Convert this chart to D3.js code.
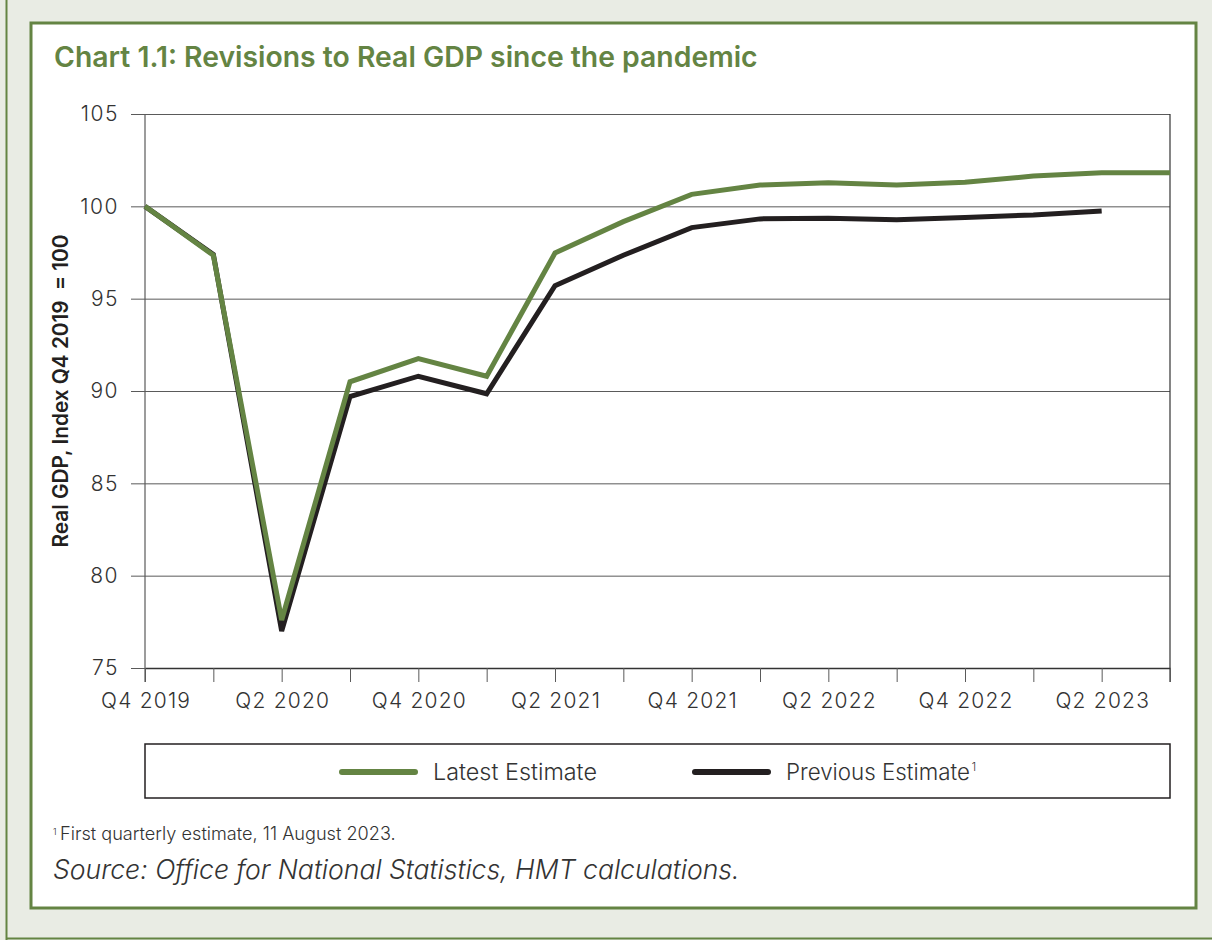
<!DOCTYPE html>
<html><head><meta charset="utf-8">
<script src="https://cdn.jsdelivr.net/npm/d3@7"></script>
<style>
body{margin:0;background:#e9ece4;}
svg{display:block;}
text{font-family:Inter,"Open Sans",sans-serif;}
</style>
</head><body>
<svg id="c" width="1212" height="940"></svg>
<script>
const quarters = ["Q4 2019","Q1 2020","Q2 2020","Q3 2020","Q4 2020","Q1 2021","Q2 2021","Q3 2021",
  "Q4 2021","Q1 2022","Q2 2022","Q3 2022","Q4 2022","Q1 2023","Q2 2023","Q3 2023"];
const labelledQuarters = ["Q4 2019","Q2 2020","Q4 2020","Q2 2021","Q4 2021","Q2 2022","Q4 2022","Q2 2023"];
const latestEstimate = [100,97.35,77.6,90.5,91.75,90.8,97.47,99.17,100.65,101.15,101.28,101.15,101.3,101.64,101.82,101.82];
const previousEstimate = [100,97.4,77.0,89.7,90.8,89.85,95.7,97.35,98.85,99.32,99.36,99.27,99.4,99.53,99.75];
const yTicks = [75,80,85,90,95,100,105];
const seriesNames = ["Latest Estimate","Previous Estimate"];

const GREEN = "#648443", BLACK = "#231f20", GRID = "#5a5a5a";
const svg = d3.select("#c");

// frames
svg.append("rect").attr("x",0).attr("y",0).attr("width",1212).attr("height",940).attr("fill","#e9ece4");
svg.append("line").attr("x1",6.5).attr("x2",6.5).attr("y1",0).attr("y2",940).attr("stroke",GREEN).attr("stroke-width",2);
svg.append("line").attr("x1",6).attr("x2",1212).attr("y1",938.5).attr("y2",938.5).attr("stroke",GREEN).attr("stroke-width",2);
svg.append("rect").attr("x",31).attr("y",23).attr("width",1165).attr("height",885)
  .attr("fill","#fff").attr("stroke",GREEN).attr("stroke-width",3);

function fit(sel, target){
  const w = sel.node().getComputedTextLength();
  const fs = parseFloat(sel.attr("font-size"));
  sel.attr("font-size", fs*target/w);
}

const title = svg.append("text").attr("x",54).attr("y",67).attr("font-size",24).attr("font-weight",600)
  .attr("fill",GREEN).text("Chart 1.1: Revisions to Real GDP since the pandemic");
fit(title, 704);

const x = d3.scalePoint().domain(quarters).range([145,1170]);
const y = d3.scaleLinear().domain([75,105]).range([668,114]);

// gridlines
svg.append("g").attr("transform","translate(145,0)")
  .call(d3.axisLeft(y).tickValues(yTicks.filter(v=>v>75)).tickSize(-1025).tickFormat(""))
  .call(g=>g.select(".domain").remove())
  .call(g=>g.selectAll("line").attr("stroke",GRID).attr("stroke-width",1));

// y axis
const ya = svg.append("g").attr("transform","translate(145,0)")
  .call(d3.axisLeft(y).tickValues(yTicks).tickSize(14).tickSizeOuter(0).tickPadding(12))
  .call(g=>g.select(".domain").remove());
ya.selectAll("line").attr("stroke",GRID);
ya.selectAll("text").attr("font-size",21).attr("font-weight",300).attr("fill","#333")
  .attr("font-family","Inter").attr("letter-spacing",1.5);
svg.append("line").attr("x1",145).attr("x2",145).attr("y1",y(105)).attr("y2",682).attr("stroke",GRID).attr("stroke-width",1.2);
// right border
svg.append("line").attr("x1",1170).attr("x2",1170).attr("y1",y(105)).attr("y2",682).attr("stroke","#333").attr("stroke-width",1.2);

// x axis
const xa = svg.append("g").attr("transform","translate(0,668)")
  .call(d3.axisBottom(x).tickSize(14).tickSizeOuter(0).tickPadding(11)
    .tickFormat(d=>labelledQuarters.includes(d)?d:""));
xa.select(".domain").attr("stroke","#333").attr("stroke-width",1.5);
xa.selectAll("line").attr("stroke",GRID);
xa.selectAll("text").attr("font-size",21).attr("font-weight",300).attr("fill","#333")
  .attr("font-family","Inter").attr("letter-spacing",1.2).attr("dx",0.6);

// y title
const yt = svg.append("text").attr("transform","translate(68,391) rotate(-90)").attr("text-anchor","middle")
  .attr("font-size",17).attr("font-weight",600).attr("fill",BLACK).style("white-space","pre")
  .text("Real GDP, Index Q4 2019  = 100");
fit(yt, 313);

// lines
const line = d3.line().x((d,i)=>x(quarters[i])).y(d=>y(d));
svg.append("path").datum(previousEstimate).attr("d",line).attr("fill","none")
  .attr("stroke",BLACK).attr("stroke-width",5).attr("stroke-linejoin","miter");
svg.append("path").datum(latestEstimate).attr("d",line).attr("fill","none")
  .attr("stroke",GREEN).attr("stroke-width",5).attr("stroke-linejoin","miter");

// legend
svg.append("rect").attr("x",145).attr("y",744).attr("width",1025).attr("height",54)
  .attr("fill","#fff").attr("stroke",BLACK).attr("stroke-width",1.5);
const legItems = [{name:seriesNames[0],c:GREEN,x:342,w:164},{name:seriesNames[1],c:BLACK,x:695,w:184}];
legItems.forEach((it,i)=>{
  svg.append("line").attr("x1",it.x).attr("x2",it.x+73).attr("y1",772).attr("y2",772)
    .attr("stroke",it.c).attr("stroke-width",6).attr("stroke-linecap","round");
  const t = svg.append("text").attr("x",it.x+91).attr("y",780).attr("font-size",21).attr("font-weight",300)
    .attr("fill","#333").text(it.name);
  fit(t, it.w);
  if(i===1){
    const w = t.node().getComputedTextLength();
    svg.append("text").attr("x",it.x+91+w+2).attr("y",771).attr("font-size",11).attr("font-weight",300)
      .attr("fill","#333").text("1");
  }
});

// footnotes
svg.append("text").attr("x",53).attr("y",835).attr("font-size",9).attr("font-weight",300).attr("fill","#333").text("1");
const fn = svg.append("text").attr("x",60).attr("y",840).attr("font-size",14).attr("font-weight",300).attr("fill","#333")
  .text("First quarterly estimate, 11 August 2023.");
fit(fn, 336);
const src = svg.append("text").attr("x",53).attr("y",879).attr("font-size",23).attr("font-weight",300)
  .attr("font-style","italic").attr("fill","#333").text("Source: Office for National Statistics, HMT calculations.");
fit(src, 687);
</script>
</body></html>
